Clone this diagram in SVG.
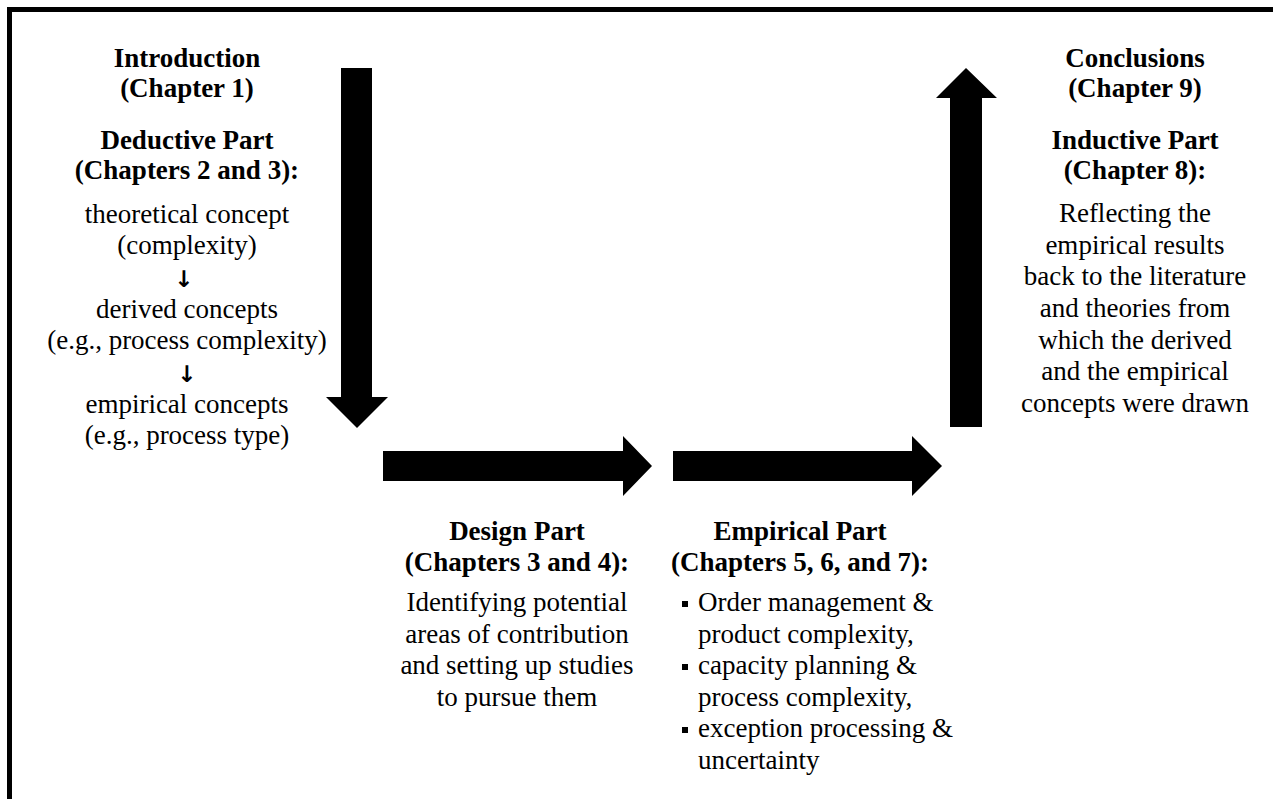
<svg xmlns="http://www.w3.org/2000/svg" width="1273" height="799" viewBox="0 0 1273 799">
  <style>
    text { font-family: "Liberation Serif", "Times New Roman", serif; font-size: 27px; fill: #000; }
    .h { font-weight: bold; }
    .c { text-anchor: middle; }
    .arr { font-family: "DejaVu Sans", sans-serif; font-size: 23px; font-weight: bold; }
    .block { fill: #000; }
  </style>
  <rect width="1273" height="799" fill="#fff"/>
  <!-- frame: left and top edges -->
  <path d="M9.5,799 V9.5 H1273" fill="none" stroke="#000" stroke-width="5"/>

  <!-- block arrows linking the parts -->
  <g id="connectors">
    <polygon class="block" points="341,68 372,68 372,397 388,397 357,428 326,397 341,397"/>
    <polygon class="block" points="383,451 623,451 623,436 652,466 623,496 623,481 383,481"/>
    <polygon class="block" points="673,451 912,451 912,436 942,466 912,496 912,481 673,481"/>
    <polygon class="block" points="950,427 950,98 936,98 966,68 997,98 982,98 982,427"/>
  </g>

  <g id="deductive">
    <text class="h c" x="187" y="67">Introduction</text>
    <text class="h c" x="187" y="97">(Chapter 1)</text>
    <text class="h c" x="187" y="149">Deductive Part</text>
    <text class="h c" x="187" y="179">(Chapters 2 and 3):</text>
    <text class="c" x="187" y="223">theoretical concept</text>
    <text class="c" x="187" y="254">(complexity)</text>
    <text class="arr c" x="184" y="287">↓</text>
    <text class="c" x="187" y="318">derived concepts</text>
    <text class="c" x="187" y="349">(e.g., process complexity)</text>
    <text class="arr c" x="187" y="382">↓</text>
    <text class="c" x="187" y="413">empirical concepts</text>
    <text class="c" x="187" y="444">(e.g., process type)</text>
  </g>

  <g id="design">
    <text class="h c" x="517" y="540">Design Part</text>
    <text class="h c" x="517" y="571">(Chapters 3 and 4):</text>
    <text class="c" x="517" y="611">Identifying potential</text>
    <text class="c" x="517" y="643">areas of contribution</text>
    <text class="c" x="517" y="674">and setting up studies</text>
    <text class="c" x="517" y="706">to pursue them</text>
  </g>

  <g id="empirical">
    <text class="h c" x="800" y="540">Empirical Part</text>
    <text class="h c" x="800" y="571">(Chapters 5, 6, and 7):</text>
    <rect x="682" y="601" width="6" height="6"/>
    <rect x="682" y="664" width="6" height="6"/>
    <rect x="682" y="727" width="6" height="6"/>
    <text x="698" y="611">Order management &amp;</text>
    <text x="698" y="643">product complexity,</text>
    <text x="698" y="674">capacity planning &amp;</text>
    <text x="698" y="706">process complexity,</text>
    <text x="698" y="737">exception processing &amp;</text>
    <text x="698" y="769">uncertainty</text>
  </g>

  <g id="inductive">
    <text class="h c" x="1135" y="67">Conclusions</text>
    <text class="h c" x="1135" y="97">(Chapter 9)</text>
    <text class="h c" x="1135" y="149">Inductive Part</text>
    <text class="h c" x="1135" y="179">(Chapter 8):</text>
    <text class="c" x="1135" y="222">Reflecting the</text>
    <text class="c" x="1135" y="254">empirical results</text>
    <text class="c" x="1135" y="285">back to the literature</text>
    <text class="c" x="1135" y="317">and theories from</text>
    <text class="c" x="1135" y="349">which the derived</text>
    <text class="c" x="1135" y="380">and the empirical</text>
    <text class="c" x="1135" y="412">concepts were drawn</text>
  </g>
</svg>
